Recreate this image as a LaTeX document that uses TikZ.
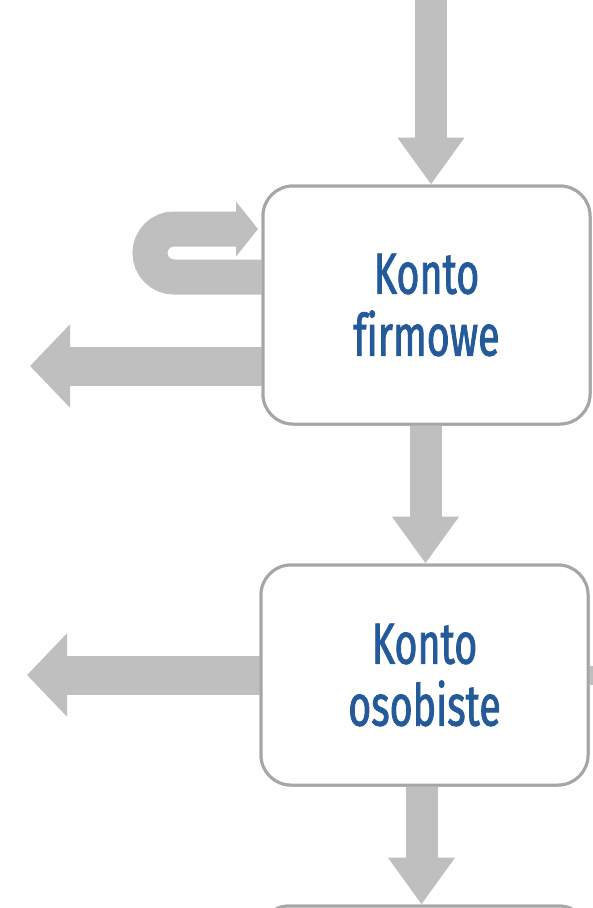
\documentclass[tikz,border=0pt]{standalone}
\usepackage{fontspec}
\usepackage{tikz}
\usetikzlibrary{arrows.meta,positioning,calc}
\newfontfamily\boxfont{Fira Sans}[FakeStretch=0.68,FakeBold=1.4,Ligatures=NoCommon]
\definecolor{Frame}{HTML}{A6A6A6}
\definecolor{Flow}{HTML}{BFBFBF}
\definecolor{Title}{HTML}{255A9A}
\tikzset{
  acct/.style={rectangle,rounded corners=30pt,draw=Frame,line width=3pt,fill=white,
    minimum width=327pt,align=center,text=Title,font=\boxfont\fontsize{58}{62}\selectfont},
  flow/.style={-{Triangle[length=47pt,width=64pt]},line width=32pt,draw=Flow},
  outflow/.style={-{Triangle[length=40pt,width=81pt]},line width=39pt,draw=Flow},
  loopflow/.style={-{Triangle[length=22pt,width=54pt]},line width=35pt,draw=Flow,rounded corners=24pt},
  stub/.style={line width=19pt,draw=Flow}
}
\begin{document}
\begin{tikzpicture}[x=1pt,y=-1pt]
    \useasboundingbox (0,0) rectangle (593,908);
    \clip (0,0) rectangle (593,908);
    % arrows sit behind the accounts
    \coordinate (in) at (431,-5);
    \coordinate (o1) at (30,366); \coordinate (o2) at (27,675);
    \coordinate (o3) at (605,675.5);
    \coordinate (lp) at (150,229); \coordinate (lt) at (258,229);
    \node[acct,minimum height=238pt] (k1) at (426.5,305) {Konto\\firmowe};
    \node[acct,minimum height=220pt] (k2) at (424.5,675) {Konto\\osobiste};
    \node[acct,minimum height=220pt,minimum width=330pt] (k3) at (424,1016) {};
    \draw[flow] (in)--(in |- k1.north);
    \draw[flow] ([xshift=-1pt]k1.south)--([xshift=-1pt]k1.south |- k2.north);
    \draw[flow] ([xshift=-3pt]k2.south)--([xshift=-3pt]k2.south |- k3.north);
    \draw[outflow] (o1 -| k1.west)--(o1);
    \draw[outflow] (o2 -| k2.west)--(o2);
    \draw[stub] (o3 -| k2.east)--(o3);
    \draw[loopflow] (k1.west |- 0,277)--(lp |- 0,277)--(lp)--(lt);
    % redraw the frames over the arrow ends
    \node[acct,minimum height=238pt] at (k1) {Konto\\firmowe};
    \node[acct,minimum height=220pt] at (k2) {Konto\\osobiste};
    \node[acct,minimum height=220pt,minimum width=330pt] at (k3) {};
  \end{tikzpicture}
\end{document}
